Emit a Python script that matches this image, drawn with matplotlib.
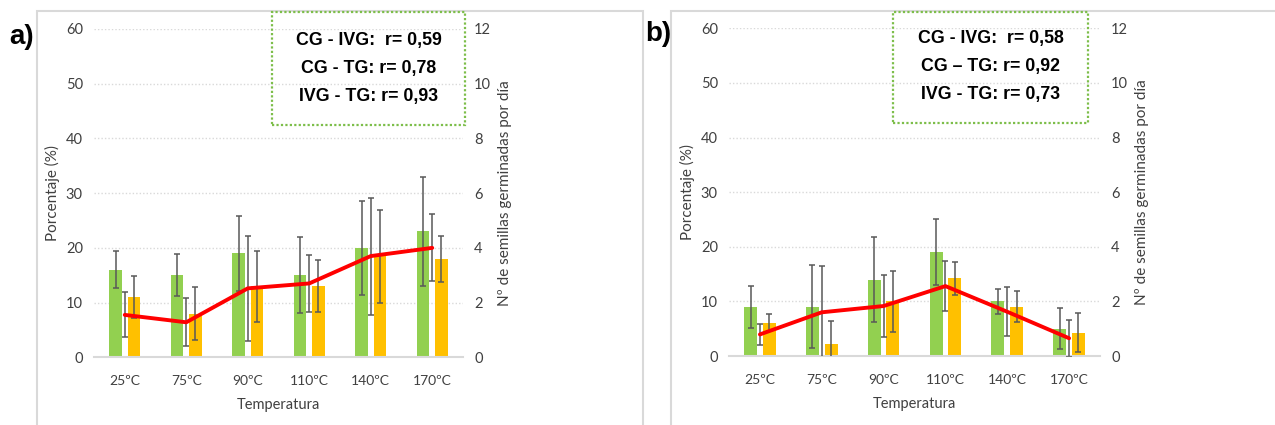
import matplotlib.pyplot as plt
from matplotlib.patches import Rectangle


W, H = 1275, 425

categories = ["25ºC", "75ºC", "90ºC", "110ºC", "140ºC", "170ºC"]

# panel a) - germination % (left axis) and seeds per day (right axis)
a_green = [16, 15, 19, 15, 20, 23]
a_green_err = [3.4, 3.8, 6.8, 6.9, 8.6, 10.0]
a_orange = [11, 8, 13, 13, 18.5, 18]
a_orange_err = [3.9, 4.9, 6.5, 4.75, 8.5, 4.15]
a_line = [1.55, 1.28, 2.52, 2.7, 3.7, 4.0]
a_line_err = [0.82, 0.87, 1.92, 1.05, 2.14, 1.22]
a_text = ["CG - IVG:  r= 0,59", "CG - TG: r= 0,78", "IVG - TG: r= 0,93"]

# panel b)
b_green = [9, 9, 14, 19, 10, 5]
b_green_err = [3.85, 7.6, 7.7, 6.0, 2.3, 3.75]
b_orange = [6.1, 2.2, 10, 14.2, 9, 4.3]
b_orange_err = [1.5, 4.2, 5.55, 3.0, 2.85, 3.5]
b_line = [0.79, 1.6, 1.83, 2.56, 1.62, 0.65]
b_line_err = [0.4, 1.7, 1.12, 0.92, 0.9, 0.68]
b_text = ["CG - IVG:  r= 0,58", "CG \u2013 TG: r= 0,92", "IVG - TG: r= 0,73"]

GREEN = "#92D050"
ORANGE = "#FFC000"
RED = "#FF0000"
ERR = "#595959"
GRID = "#D9D9D9"
FONT = "Lato"


def fx(x):
    return x / W


def fy(y):
    return 1 - y / H


def add_axes_px(fig, left, top, right, bottom):
    return fig.add_axes([fx(left), fy(bottom), (right - left) / W, (bottom - top) / H])


def draw_panel(fig, box, green, green_err, orange, orange_err, line, line_err):
    ax = add_axes_px(fig, *box)
    x = list(range(len(categories)))
    off, bw = 0.15, 0.21
    xg = [i - off for i in x]
    xo = [i + off for i in x]
    ekw = dict(ecolor=ERR, elinewidth=1.1, capsize=2.5, capthick=1.1)

    ax.bar(xg, green, width=bw, color=GREEN, zorder=2)
    ax.bar(xo, orange, width=bw, color=ORANGE, zorder=2)
    ax.errorbar(xg, green, yerr=green_err, fmt="none", zorder=3, **ekw)
    ax.errorbar(xo, orange, yerr=orange_err, fmt="none", zorder=3, **ekw)

    ax.set_xlim(-0.5, len(categories) - 0.5)
    ax.set_ylim(0, 60)
    ax.set_yticks(range(0, 61, 10))
    ax.set_xticks(x)
    ax.set_xticklabels(categories)
    for y in range(10, 61, 10):
        ax.axhline(y, color=GRID, lw=1, ls=(0, (1, 1.5)), zorder=0)
    for s in ["top", "left", "right"]:
        ax.spines[s].set_visible(False)
    ax.spines["bottom"].set_color(GRID)
    ax.spines["bottom"].set_linewidth(1.5)
    ax.tick_params(length=0, labelsize=10.5, colors="#404040", pad=8)
    ax.tick_params(axis="x", labelsize=10, pad=13)
    ax.set_ylabel("Porcentaje (%)", fontsize=11, color="#404040", labelpad=4)
    ax.set_xlabel("Temperatura", fontsize=10.5, color="#404040", labelpad=8)

    ax2 = ax.twinx()
    ax2.errorbar(x, line, yerr=line_err, fmt="none", zorder=3, **ekw)
    ax2.plot(x, line, color=RED, lw=2.8, solid_capstyle="round", zorder=4)
    ax2.set_ylim(0, 12)
    ax2.set_yticks(range(0, 13, 2))
    for s in ["top", "left", "right", "bottom"]:
        ax2.spines[s].set_visible(False)
    ax2.tick_params(length=0, labelsize=10.5, colors="#404040", pad=8)
    ax2.set_ylabel("Nº de semillas germinadas por día", fontsize=11,
                   color="#404040", labelpad=5)
    for lab in ax.get_xticklabels() + ax.get_yticklabels() + ax2.get_yticklabels():
        lab.set_fontfamily(FONT)
    for t in [ax.xaxis.label, ax.yaxis.label, ax2.yaxis.label]:
        t.set_fontfamily(FONT)
    return ax


def draw_box(fig, left, top, right, bottom, lines, line_y):
    fig.patches.append(Rectangle((fx(left), fy(bottom)), (right - left) / W,
                                 (bottom - top) / H, transform=fig.transFigure,
                                 fill=False, edgecolor="#7DBE4A", lw=1.6,
                                 ls=(0, (1, 1)), zorder=5))
    cx = (left + right) / 2
    for txt, y in zip(lines, line_y):
        fig.text(fx(cx), fy(y), txt, ha="center", va="center", fontsize=12.8,
                 fontweight="bold", family="Liberation Sans", color="black")


fig = plt.figure(figsize=(W / 100, H / 100), dpi=100)

# outer frames of both panels
for left, right in [(37, 643), (671, 1285)]:
    fig.patches.append(Rectangle((fx(left), fy(440)), (right - left) / W, (440 - 11) / H,
                                 transform=fig.transFigure, fill=False,
                                 edgecolor="#D9D9D9", lw=1.5, zorder=0))

draw_panel(fig, (94, 29, 463, 357.3), a_green, a_green_err, a_orange, a_orange_err,
           a_line, a_line_err)
draw_panel(fig, (729, 28.3, 1100, 356), b_green, b_green_err, b_orange, b_orange_err,
           b_line, b_line_err)

draw_box(fig, 272, 12, 465, 125, a_text, [40, 68, 96])
draw_box(fig, 893, 12, 1088, 123, b_text, [39, 67, 94])

fig.text(fx(22), fy(37), "a)", ha="center", va="center", fontsize=20,
         fontweight="bold", family="Liberation Sans")
fig.text(fx(658), fy(34), "b)", ha="center", va="center", fontsize=20,
         fontweight="bold", family="Liberation Sans")

fig.savefig("out.png", dpi=100)
